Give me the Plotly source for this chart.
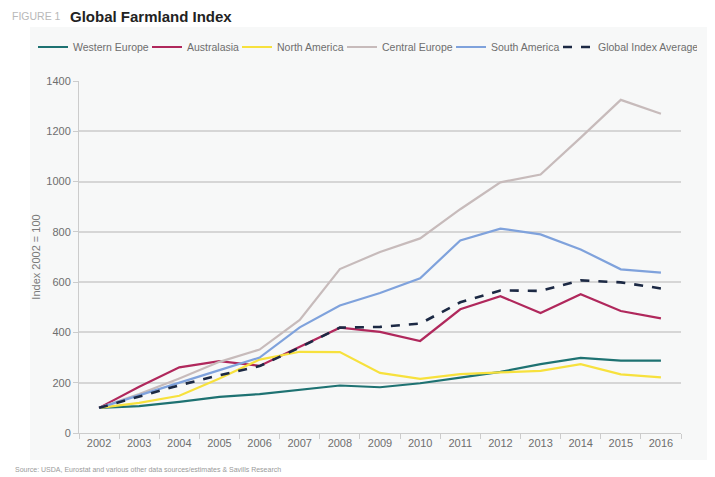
import plotly.graph_objects as go

years = ["2002", "2003", "2004", "2005", "2006", "2007", "2008", "2009",
         "2010", "2011", "2012", "2013", "2014", "2015", "2016"]

western_europe = [100, 107, 124, 144, 155, 172, 189, 182, 198, 220, 243, 274, 299, 288, 288]
australasia = [100, 184, 261, 286, 267, 343, 419, 402, 366, 492, 544, 477, 552, 485, 456]
north_america = [100, 120, 148, 217, 292, 323, 322, 239, 215, 234, 241, 247, 274, 233, 221]
central_europe = [100, 155, 217, 283, 332, 450, 652, 720, 774, 890, 997, 1028, 1175, 1325, 1270]
south_america = [100, 151, 200, 250, 300, 420, 507, 557, 615, 766, 813, 790, 730, 651, 638]
global_average = [100, 144, 190, 230, 266, 340, 419, 422, 435, 520, 567, 565, 607, 599, 575]

# legend entry widths (px), slightly narrower than the text so entries sit close together
legend_widths = [69, 45, 60, 64, 62, 94]

series = [
    ("Western Europe", western_europe, "#1e7272", "solid", 2.2),
    ("Australasia", australasia, "#b0285c", "solid", 2.2),
    ("North America", north_america, "#f7e13d", "solid", 2.2),
    ("Central Europe", central_europe, "#c7bbbb", "solid", 2.2),
    ("South America", south_america, "#7fa2dc", "solid", 2.2),
    ("Global Index Average", global_average, "#1c2944", "dash", 2.6),
]

fig = go.Figure()
for (name, vals, color, dash, w), lw in zip(series, legend_widths):
    fig.add_trace(go.Scatter(
        x=years, y=vals, name=name, mode="lines",
        line=dict(color=color, width=w, dash=dash),
        legendwidth=lw,
    ))

panel = "#f7f8f8"
tick_font = dict(family="Liberation Sans, Arial, sans-serif", size=11, color="#6e6e6e")

fig.update_layout(
    width=715, height=477,
    margin=dict(l=71, r=42, t=73, b=52),
    paper_bgcolor="white",
    plot_bgcolor=panel,
    showlegend=True,
    legend=dict(
        orientation="h",
        x=-46 / 602, xanchor="left", y=1 + 34 / 352, yanchor="middle",
        font=dict(family="Liberation Sans, Arial, sans-serif", size=10.5, color="#6e6e6e"),
        bgcolor="rgba(0,0,0,0)", itemwidth=30, tracegroupgap=0,
    ),
    xaxis=dict(
        type="category", range=[-0.5, 14.5],
        showgrid=False, showline=True, linecolor="#cccccc", linewidth=1,
        ticks="outside", tickson="boundaries", ticklen=5, tickcolor="#cccccc",
        tickfont=tick_font, fixedrange=True,
    ),
    yaxis=dict(
        range=[0, 1400], dtick=200, tick0=0,
        showgrid=True, gridcolor="#d6d6d6", gridwidth=1.5,
        zeroline=False, showline=True, linecolor="#cccccc", linewidth=1,
        ticks="outside", ticklen=5, tickcolor="#cccccc",
        tickfont=tick_font,
        title=dict(text="Index 2002 = 100", standoff=3,
                   font=dict(family="Liberation Sans, Arial, sans-serif", size=11, color="#7a7a7a")),
    ),
    shapes=[dict(
        type="rect", xref="paper", yref="paper", layer="below",
        x0=-49 / 602, x1=(715 - 71) / 602, y0=-27 / 352, y1=1 + 54 / 352,
        fillcolor=panel, line=dict(width=0),
    )],
    annotations=[
        dict(
            xref="paper", yref="paper", x=-69 / 602, y=1 + 65 / 352,
            xanchor="left", yanchor="middle", showarrow=False,
            text="FIGURE 1",
            font=dict(family="Liberation Sans, Arial, sans-serif", size=10.5, color="#b8b8b8"),
        ),
        dict(
            xref="paper", yref="paper", x=-11 / 602, y=1 + 65 / 352,
            xanchor="left", yanchor="middle", showarrow=False,
            text="<b>Global Farmland Index</b>",
            font=dict(family="Liberation Sans, Arial, sans-serif", size=15, color="#222222"),
        ),
        dict(
            xref="paper", yref="paper", x=-66 / 602, y=-36 / 352,
            xanchor="left", yanchor="middle", showarrow=False,
            text="Source: USDA, Eurostat and various other data sources/estimates & Savills Research",
            font=dict(family="Liberation Sans, Arial, sans-serif", size=7, color="#9a9a9a"),
        ),
    ],
)

fig.write_html("out.html")
